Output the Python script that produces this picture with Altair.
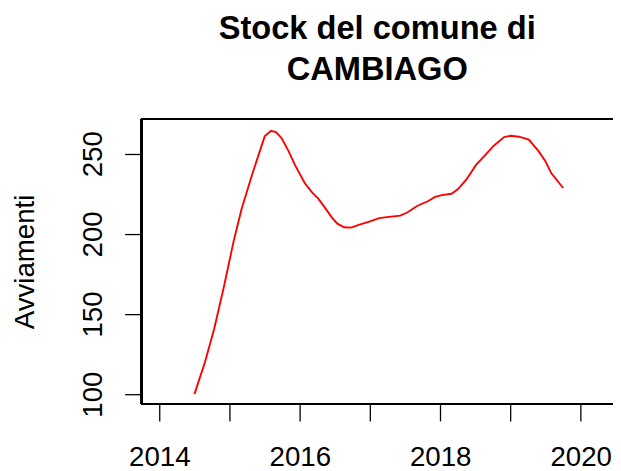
import altair as alt
import pandas as pd

years = [2014.50, 2014.65, 2014.78, 2014.92, 2015.06, 2015.17, 2015.32, 2015.42, 2015.50,
         2015.59, 2015.66, 2015.74, 2015.84, 2015.93, 2016.07, 2016.18, 2016.26, 2016.35,
         2016.45, 2016.53, 2016.63, 2016.73, 2016.85, 2016.99, 2017.13, 2017.27, 2017.43,
         2017.53, 2017.67, 2017.83, 2017.92, 2018.02, 2018.16, 2018.25, 2018.37, 2018.51,
         2018.63, 2018.77, 2018.91, 2019.00, 2019.12, 2019.26, 2019.40, 2019.50, 2019.58,
         2019.75]
values = [100.0, 120.1, 140.6, 167.2, 195.9, 215.4, 236.9, 250.2, 260.8,
          264.3, 263.5, 259.8, 251.6, 243.0, 231.7, 225.6, 222.1, 216.8,
          210.6, 206.5, 204.1, 203.9, 205.7, 207.6, 209.8, 210.6, 211.4,
          213.3, 217.4, 220.5, 222.9, 224.2, 225.0, 227.8, 233.8, 243.0,
          248.7, 255.3, 260.4, 261.2, 260.6, 258.8, 251.6, 245.1, 237.9,
          228.6]
x_ticks = [2014, 2015, 2016, 2017, 2018, 2019, 2020]
y_ticks = [100, 150, 200, 250]

W, H = 477, 288
FONT = "Liberation Sans"

df = pd.DataFrame({"anno": years, "avv": values})

xscale = alt.Scale(domain=[2013.745, 2020.46], nice=False, zero=False)
yscale = alt.Scale(domain=[93.8, 271.4], nice=False, zero=False)

line = alt.Chart(df).mark_line(color="#FF0000", strokeWidth=1.9, clip=True).encode(
    x=alt.X("anno:Q", scale=xscale,
            axis=alt.Axis(values=x_ticks, format="d", title=None, grid=False, domain=False,
                          tickSize=17, tickWidth=1.3, tickColor="black",
                          labelExpr="datum.value % 2 == 0 ? datum.label : ''",
                          labelFont=FONT, labelFontSize=28, labelColor="black",
                          labelPadding=23, labelBaseline="top", labelFlush=False,
                          labelOverlap=False)),
    y=alt.Y("avv:Q", scale=yscale,
            axis=alt.Axis(values=y_ticks, title="Avviamenti", grid=False, domain=False,
                          tickSize=17, tickWidth=1.3, tickColor="black",
                          labelFont=FONT, labelFontSize=28, labelColor="black",
                          labelAngle=270, labelAlign="center", labelBaseline="alphabetic",
                          labelPadding=23, labelFlush=False, labelOverlap=False,
                          titleFont=FONT, titleFontSize=28, titleFontWeight="normal",
                          titleColor="black", titleAngle=270, titleAlign="center",
                          titleBaseline="alphabetic", titleX=-109.7, titleY=143.7)),
)

top = alt.Chart(df).mark_rule(color="black", strokeWidth=1.3).encode(
    x=alt.value(0), x2=alt.value(W + 2), y=alt.value(0))
bottom = alt.Chart(df).mark_rule(color="black", strokeWidth=1.3).encode(
    x=alt.value(0), x2=alt.value(W + 2), y=alt.value(H))
left = alt.Chart(df).mark_rule(color="black", strokeWidth=1.3).encode(
    x=alt.value(0), y=alt.value(0), y2=alt.value(H))

chart = alt.layer(line, top, bottom, left).properties(
    width=W, height=H,
    title=alt.TitleParams(text=["Stock del comune di\u00a0", "CAMBIAGO"],
                          font=FONT, fontSize=33, fontWeight="bold", color="black",
                          anchor="middle", lineHeight=42, offset=32),
    autosize=alt.AutoSizeParams(type="none"),
    padding={"left": 135, "top": 110, "right": 0, "bottom": 66},
).configure_view(stroke=None)

chart.save("out.html", embed_options={"renderer": "svg", "actions": False})
